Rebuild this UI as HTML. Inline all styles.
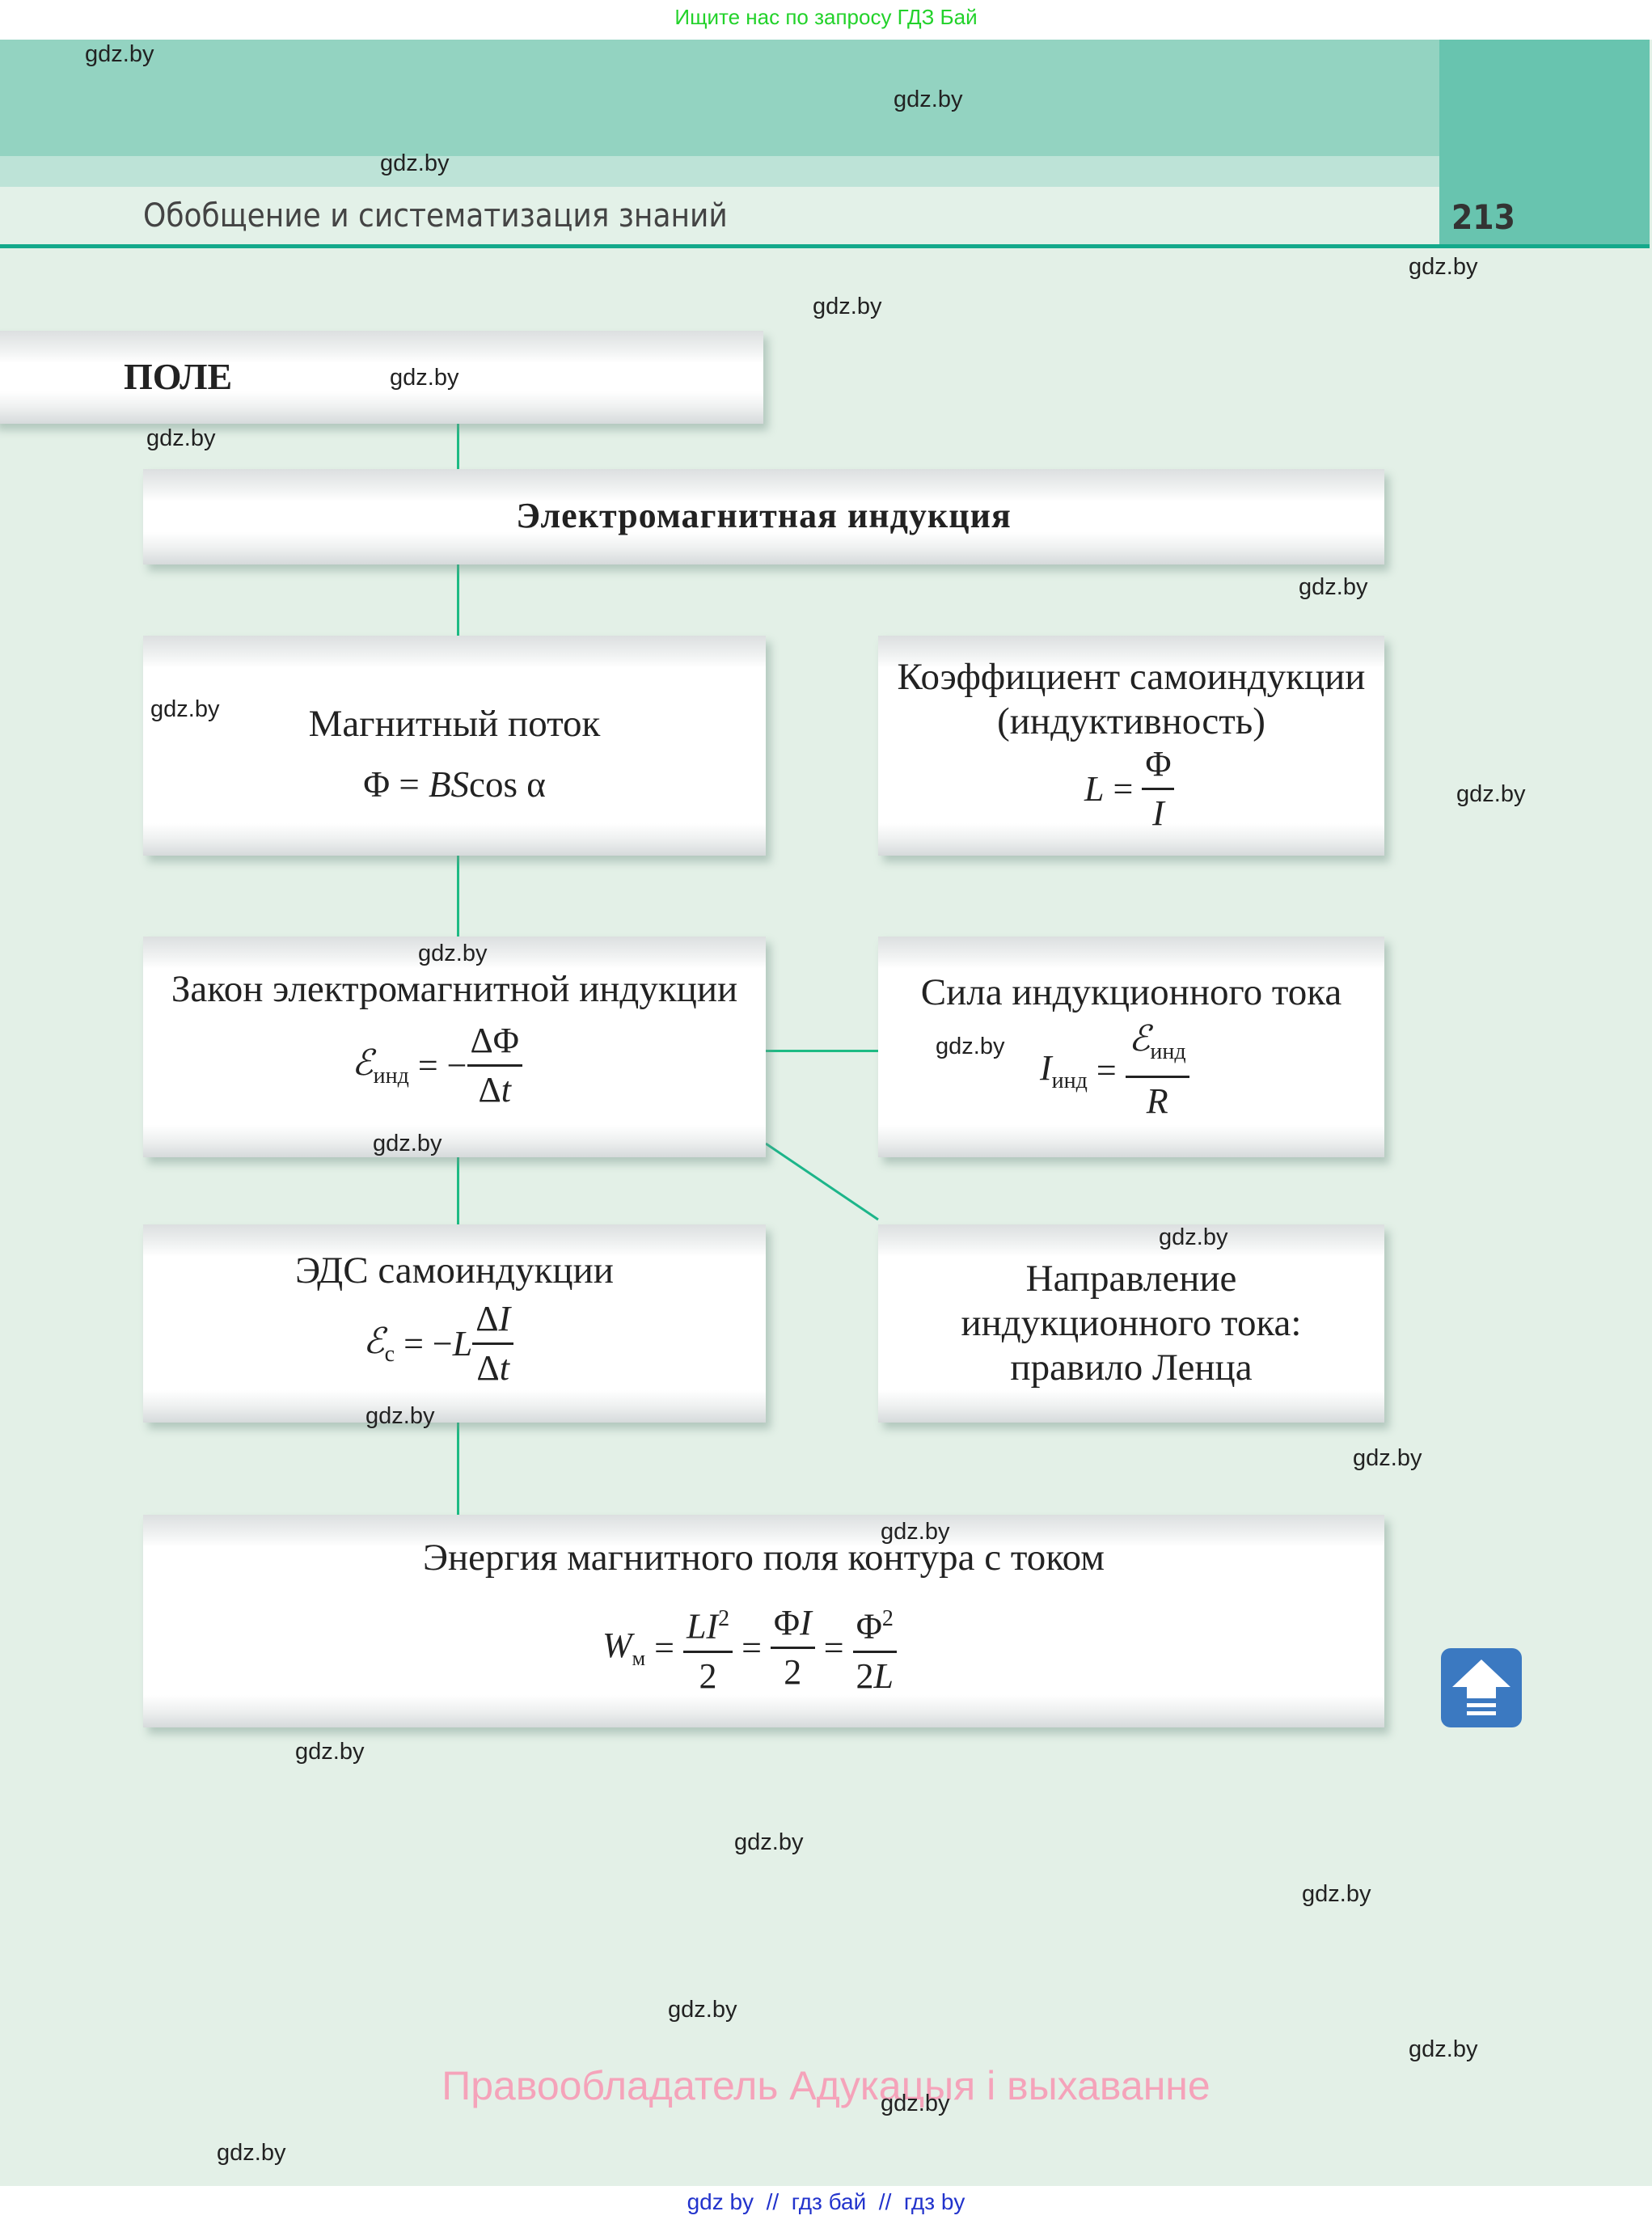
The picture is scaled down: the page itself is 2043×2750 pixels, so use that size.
<!DOCTYPE html>
<html><head><meta charset="utf-8">
<style>
*{margin:0;padding:0;box-sizing:border-box}
body{width:2043px;height:2750px;position:relative;background:#e3f0e7;overflow:hidden;font-family:"Liberation Serif",serif;color:#222}
.a{position:absolute}
.box{position:absolute;background:linear-gradient(#dcdfe0 0,#eef0f0 22px,#fff 40px,#fff calc(100% - 40px),#eef0f0 calc(100% - 20px),#d6dadb 100%);box-shadow:6px 8px 10px rgba(120,150,140,.45);text-align:center;color:#222}
.w{position:absolute;font-family:"Liberation Sans",sans-serif;font-size:29px;color:#222;line-height:34px}
.v{position:absolute;left:565px;width:3px;background:#1dbb84}
.t{font-size:47px;line-height:55px}
.f{font-size:44px;font-style:italic;position:absolute;white-space:nowrap}
.fr{display:inline-block;vertical-align:middle;text-align:center}
.fr>span{display:block;line-height:58px;padding:0 4px}
.fr>.n{border-bottom:3px solid #222}
.up{font-style:normal}
</style></head><body>
<div class="a" style="left:0;top:0;width:2043px;height:49px;background:#fff"></div>
<div class="a" style="left:0;top:6px;width:2043px;text-align:center;font-family:'Liberation Sans',sans-serif;font-size:26px;color:#22d22a">Ищите нас по запросу ГДЗ Бай</div>
<div class="a" style="left:0;top:49px;width:1780px;height:144px;background:#93d3c1"></div>
<div class="a" style="left:0;top:193px;width:1780px;height:38px;background:#bde3d7"></div>
<div class="a" style="left:0;top:231px;width:1780px;height:72px;background:#e3f1e8"></div>
<div class="a" style="left:1780px;top:49px;width:260px;height:256px;background:#68c4af"></div>
<div class="a" style="left:0;top:302px;width:2040px;height:5px;background:#14a98b"></div>
<div class="a" style="left:177px;top:244px;font-family:'DejaVu Sans Condensed','Liberation Sans',sans-serif;font-size:40px;color:#444">Обобщение и систематизация знаний</div>
<div class="a" style="left:1795px;top:244px;font-family:'DejaVu Sans Condensed','Liberation Sans',sans-serif;font-weight:bold;font-size:42px;color:#333">213</div>

<div class="v" style="top:524px;height:56px"></div>
<div class="v" style="top:698px;height:88px"></div>
<div class="v" style="top:1058px;height:100px"></div>
<div class="v" style="top:1431px;height:83px"></div>
<div class="v" style="top:1759px;height:114px"></div>
<div class="a" style="left:947px;top:1298px;width:139px;height:3px;background:#1dbb84"></div>
<svg class="a" style="left:0;top:0" width="2043" height="2750"><line x1="947" y1="1414" x2="1086" y2="1508" stroke="#1db58a" stroke-width="3"/></svg>

<div class="box" style="left:-10px;top:409px;width:954px;height:115px"><div class="a" style="left:163px;top:30px;font-size:46px;font-weight:bold">ПОЛЕ</div></div>
<div class="box" style="left:177px;top:580px;width:1535px;height:118px"><div style="padding-top:32px;font-size:44px;font-weight:bold;letter-spacing:1px">Электромагнитная индукция</div></div>

<div class="box" style="left:177px;top:786px;width:770px;height:272px">
<div class="t" style="position:absolute;left:0;right:0;top:82px">Магнитный поток</div>
<div class="a" style="left:0;right:0;top:158px;font-size:45px">Φ = <i>BS</i>cos α</div>
</div>
<div class="box" style="left:1086px;top:786px;width:626px;height:272px">
<div class="t" style="padding-top:24px">Коэффициент самоиндукции<br>(индуктивность)</div>
<div class="f" style="left:255px;top:130px"><span style="vertical-align:middle">L</span> <span class="up" style="vertical-align:middle">=</span> <span class="fr"><span class="n up">Φ</span><span>I</span></span></div>
</div>

<div class="box" style="left:177px;top:1158px;width:770px;height:273px">
<div class="t" style="padding-top:38px">Закон электромагнитной индукции</div>
<div class="f" style="left:258px;top:100px"><span style="vertical-align:middle">ℰ<sub class="up" style="font-size:28px">инд</sub></span> <span class="up" style="vertical-align:middle">= −</span><span class="fr"><span class="n up">ΔΦ</span><span><span class="up">Δ</span>t</span></span></div>
</div>
<div class="box" style="left:1086px;top:1158px;width:626px;height:273px">
<div class="t" style="padding-top:42px">Сила индукционного тока</div>
<div class="f" style="left:200px;top:98px"><span style="vertical-align:middle">I<sub class="up" style="font-size:28px">инд</sub></span> <span class="up" style="vertical-align:middle">=</span> <span class="fr"><span class="n">ℰ<sub class="up" style="font-size:28px">инд</sub></span><span>R</span></span></div>
</div>

<div class="box" style="left:177px;top:1514px;width:770px;height:245px">
<div class="t" style="padding-top:30px">ЭДС самоиндукции</div>
<div class="f" style="left:272px;top:88px"><span style="vertical-align:middle">ℰ<sub class="up" style="font-size:28px">c</sub></span> <span class="up" style="vertical-align:middle">= −</span><span style="vertical-align:middle">L</span><span class="fr"><span class="n"><span class="up">Δ</span>I</span><span><span class="up">Δ</span>t</span></span></div>
</div>
<div class="box" style="left:1086px;top:1514px;width:626px;height:245px">
<div class="t" style="padding-top:40px">Направление<br>индукционного тока:<br>правило Ленца</div>
</div>

<div class="box" style="left:177px;top:1873px;width:1535px;height:263px">
<div class="t" style="padding-top:26px">Энергия магнитного поля контура с током</div>
<div class="f" style="left:568px;top:100px"><span style="vertical-align:middle">W<sub class="up" style="font-size:26px">м</sub></span> <span class="up" style="vertical-align:middle">=</span> <span class="fr"><span class="n">LI<sup class="up" style="font-size:28px">2</sup></span><span class="up">2</span></span> <span class="up" style="vertical-align:middle">=</span> <span class="fr"><span class="n"><span class="up">Φ</span>I</span><span class="up">2</span></span> <span class="up" style="vertical-align:middle">=</span> <span class="fr"><span class="n up">Φ<sup style="font-size:28px">2</sup></span><span><span class="up">2</span>L</span></span></div>
</div>

<div class="a" style="left:1782px;top:2038px;width:100px;height:98px;background:#3b79c1;border-radius:12px"></div>
<svg class="a" style="left:1782px;top:2038px" width="100" height="98"><polygon points="50,14 86,48 68,48 68,62 32,62 32,48 14,48" fill="#fff"/><rect x="32" y="68" width="36" height="5" fill="#fff"/><rect x="32" y="78" width="36" height="5" fill="#fff"/></svg>

<div class="a" style="left:0;top:2550px;width:2043px;text-align:center;font-family:'Liberation Sans',sans-serif;font-size:50px;color:#f5a3ba">Правообладатель Адукацыя і выхаванне</div>
<div class="a" style="left:0;top:2703px;width:2043px;height:47px;background:#fff"></div>
<div class="a" style="left:0;top:2707px;width:2043px;text-align:center;font-family:'Liberation Sans',sans-serif;font-size:28px;color:#2233cc;white-space:pre">gdz by  //  гдз бай  //  гдз by</div>

<div class="w" style="left:105px;top:50px">gdz.by</div>
<div class="w" style="left:1105px;top:106px">gdz.by</div>
<div class="w" style="left:470px;top:185px">gdz.by</div>
<div class="w" style="left:1742px;top:313px">gdz.by</div>
<div class="w" style="left:1005px;top:362px">gdz.by</div>
<div class="w" style="left:482px;top:450px">gdz.by</div>
<div class="w" style="left:181px;top:525px">gdz.by</div>
<div class="w" style="left:1606px;top:709px">gdz.by</div>
<div class="w" style="left:186px;top:860px">gdz.by</div>
<div class="w" style="left:1801px;top:965px">gdz.by</div>
<div class="w" style="left:517px;top:1162px">gdz.by</div>
<div class="w" style="left:1157px;top:1277px">gdz.by</div>
<div class="w" style="left:461px;top:1397px">gdz.by</div>
<div class="w" style="left:1433px;top:1513px">gdz.by</div>
<div class="w" style="left:452px;top:1734px">gdz.by</div>
<div class="w" style="left:1673px;top:1786px">gdz.by</div>
<div class="w" style="left:1089px;top:1877px">gdz.by</div>
<div class="w" style="left:365px;top:2149px">gdz.by</div>
<div class="w" style="left:908px;top:2261px">gdz.by</div>
<div class="w" style="left:1610px;top:2325px">gdz.by</div>
<div class="w" style="left:826px;top:2468px">gdz.by</div>
<div class="w" style="left:1742px;top:2517px">gdz.by</div>
<div class="w" style="left:1089px;top:2584px">gdz.by</div>
<div class="w" style="left:268px;top:2645px">gdz.by</div>
</body></html>
